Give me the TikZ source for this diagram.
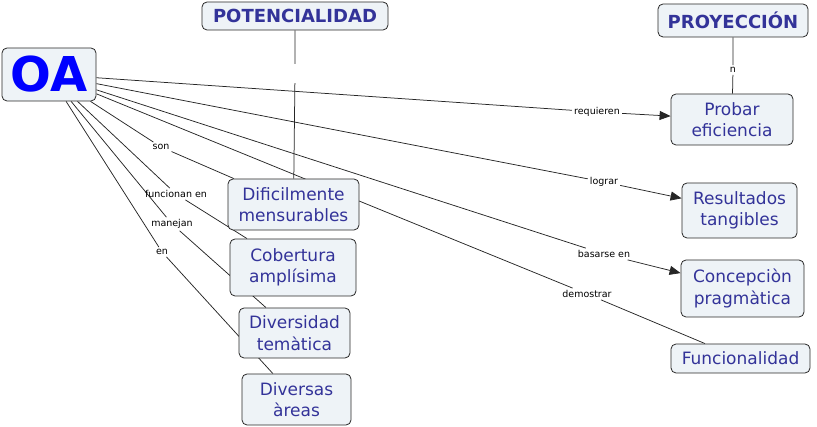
\documentclass[tikz,border=0pt]{standalone}
\usepackage{fontspec}
\setmainfont{DejaVu Sans}
\usepackage{xcolor}
\usetikzlibrary{arrows.meta, positioning, shapes, backgrounds}

\definecolor{conceptfill}{RGB}{238,243,247}
\definecolor{concepttext}{RGB}{51,51,153}
\definecolor{conceptdraw}{RGB}{40,40,40}

\tikzset{
  concept/.style={draw=conceptdraw, fill=conceptfill, rounded corners=5pt, line width=0.8pt,
    text=concepttext, align=center, font=\fontsize{17}{21.5}\selectfont, inner sep=2pt},
  header/.style={concept, font=\fontsize{18}{20}\selectfont\bfseries},
  linkname/.style={font=\fontsize{9.5}{11}\selectfont, text=black, inner sep=2pt},
  link/.style={line width=0.75pt, draw=black!85},
  arrowlink/.style={link, -{Triangle[length=11pt,width=9pt]}}
}

\begin{document}
\begin{tikzpicture}[x=1pt, y=-1pt]
\useasboundingbox (0,0) rectangle (817,427);

% concepts
\node[concept, minimum width=94pt, minimum height=53pt, text=blue, font=\fontsize{48}{50}\selectfont\bfseries] (oa) at (49,74.5) {OA};
\node[header, minimum width=186pt, minimum height=28pt] (potencialidad) at (295,16) {POTENCIALIDAD};
\node[header, minimum width=150pt, minimum height=33pt] (proyeccion) at (733,20.5) {PROYECCIÓN};

\node[concept, minimum width=122pt, minimum height=51pt] (probar) at (732,119.5) {Probar\\eficiencia};
\node[concept, minimum width=115pt, minimum height=55pt] (resultados) at (739.5,210.5) {Resultados\\tangibles};
\node[concept, minimum width=123pt, minimum height=57pt] (concepcion) at (742.5,288.5) {Concepciòn\\pragmàtica};
\node[concept, minimum width=139pt, minimum height=29pt] (funcionalidad) at (740.5,358.5) {Funcionalidad};

\node[concept, minimum width=131pt, minimum height=51pt] (dificil) at (293.5,204.5) {Dificilmente\\mensurables};
\node[concept, minimum width=126pt, minimum height=57pt] (cobertura) at (293,267.5) {Cobertura\\amplísima};
\node[concept, minimum width=111pt, minimum height=50pt] (diversidad) at (294.5,333) {Diversidad\\temàtica};
\node[concept, minimum width=109pt, minimum height=51pt] (diversas) at (296.5,399.5) {Diversas\\àreas};

% link names
\node[linkname] (lRequieren) at (597,112) {requieren};
\node[linkname] (lLograr) at (604,182) {lograr};
\node[linkname] (lBasarse) at (604,254) {basarse en};
\node[linkname] (lDemostrar) at (587,294) {demostrar};
\node[linkname] (lSon) at (161,147) {son};
\node[linkname] (lFuncionan) at (176,194) {funcionan en};
\node[linkname] (lManejan) at (172,224) {manejan};
\node[linkname] (lEn) at (162,252) {en};
\node[linkname] (lN) at (733,70) {n};
\node[linkname, minimum height=19pt] (lPot) at (295,73.5) {};

% connectors
\begin{scope}[on background layer]
\draw[link] (oa) -- (lRequieren);
\draw[arrowlink] (lRequieren) -- (probar);
\draw[link] (oa) -- (lLograr);
\draw[arrowlink] (lLograr) -- (resultados);
\draw[link] (oa) -- (lBasarse);
\draw[arrowlink] (lBasarse) -- (concepcion);
\draw[link] (oa) -- (lDemostrar) -- (funcionalidad);
\draw[link] (oa) -- (lSon) -- (dificil);
\draw[link] (oa) -- (lFuncionan) -- (cobertura);
\draw[link] (oa) -- (lManejan) -- (diversidad);
\draw[link] (oa) -- (lEn) -- (diversas);
\draw[link] (proyeccion) -- (lN) -- (probar);
\draw[link] (potencialidad) -- (lPot) -- (dificil);
\end{scope}
\end{tikzpicture}
\end{document}
